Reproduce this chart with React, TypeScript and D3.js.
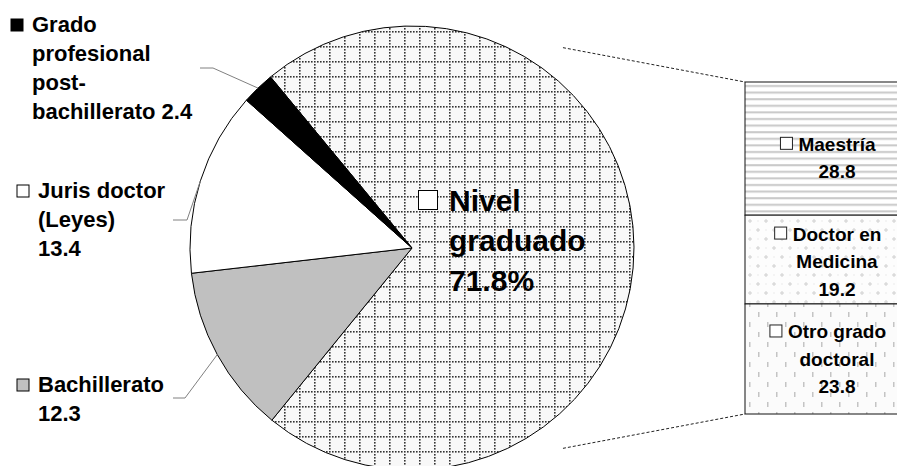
import React from 'react';
import * as d3 from 'd3';

// ---- data ----
const pieCategories = ['Nivel graduado', 'Bachillerato', 'Juris doctor (Leyes)', 'Grado profesional post-bachillerato'];
const pieValues = [71.8, 12.3, 13.4, 2.4];
const pieLabelLines = [
  ['Nivel', 'graduado', '71.8%'],
  ['Bachillerato', '12.3'],
  ['Juris doctor', '(Leyes)', '13.4'],
  ['Grado', 'profesional', 'post-', 'bachillerato 2.4'],
];
const barCategories = ['Maestría', 'Doctor en Medicina', 'Otro grado doctoral'];
const barValues = [28.8, 19.2, 23.8];
const barLabelLines = [
  ['Maestría', '28.8'],
  ['Doctor en', 'Medicina', '19.2'],
  ['Otro grado', 'doctoral', '23.8'],
];

const FONT = "'Liberation Sans', Arial, Helvetica, sans-serif";

let measureCtx: CanvasRenderingContext2D | null = null;
function textWidth(t: string, size: number) {
  if (!measureCtx) measureCtx = document.createElement('canvas').getContext('2d');
  if (!measureCtx) return t.length * size * 0.55;
  measureCtx.font = `bold ${size}px ${FONT}`;
  return measureCtx.measureText(t).width;
}

export default function App() {
  const W = 897, H = 466;
  const cx = 412, cy = 248, R = 222;
  const start = (-39.6 * Math.PI) / 180;

  const pie = d3.pie<number>().sort(null).value((d) => d).startAngle(start).endAngle(start + 2 * Math.PI);
  const arcs = pie(pieValues);
  const arcGen = d3.arc<d3.PieArcDatum<number>>().innerRadius(0).outerRadius(R);
  const pieFills = ['url(#pGrid)', '#c0c0c0', '#ffffff', '#000000'];
  const markerFills = ['#ffffff', '#c0c0c0', '#ffffff', '#000000'];

  const pt = (a: number, r: number): [number, number] => [cx + r * Math.sin(a), cy - r * Math.cos(a)];

  // left label layout (index matches pie data)
  const leftLayout: Record<number, { x: number; y: number; ly: number; x0: number; x1: number }> = {
    1: { x: 38, y: 392, ly: 398, x0: 173, x1: 185 },
    2: { x: 38, y: 198, ly: 220, x0: 173, x1: 187 },
    3: { x: 32, y: 32, ly: 68, x0: 200, x1: 213 },
  };
  const leftSize = 22, leftPitch = 29;

  // secondary bar
  const barX = 745, barW = 168, barTop = 82, barBottom = 414;
  const total = d3.sum(barValues);
  const yScale = d3.scaleLinear().domain([0, total]).range([barTop, barBottom]);
  const cum = barValues.map((_, i) => d3.sum(barValues.slice(0, i)));
  const barFills = ['url(#pStripe)', 'url(#pPlus)', 'url(#pDash)'];
  const barSize = 19, barPitch = 27.5;
  const barLabelCx = 828;
  const barLabelDy = [9, 1.5, 0];

  // connector lines
  const connA = (37 * Math.PI) / 180;
  const topStart = pt(connA, R * 1.13);
  const botStart = pt(Math.PI - connA, R * 1.13);

  const gridDots = d3.range(0, 15, 3);

  return (
    <svg width={W} height={H} style={{ position: 'absolute', left: 0, top: 0, display: 'block' }} fontFamily={FONT}>
      <defs>
        <pattern id="pGrid" patternUnits="userSpaceOnUse" width={15} height={15} x={cx} y={cy}>
          <rect width={15} height={15} fill="#f8f8f8" />
          {gridDots.map((d) => (
            <rect key={'h' + d} x={d} y={0} width={1.6} height={1.6} fill="#333" />
          ))}
          {gridDots.slice(1).map((d) => (
            <rect key={'v' + d} x={0} y={d} width={1.6} height={1.6} fill="#333" />
          ))}
        </pattern>
        <pattern id="pStripe" patternUnits="userSpaceOnUse" width={10} height={6.6} y={barTop}>
          <rect width={10} height={6.6} fill="#ffffff" />
          <rect y={3} width={10} height={2} fill="#c8c8c8" />
        </pattern>
        <pattern id="pPlus" patternUnits="userSpaceOnUse" width={16} height={18} x={barX}>
          <rect width={16} height={18} fill="#fdfdfd" />
          <rect x={3} y={4.5} width={4} height={1} fill="#d0d0d0" />
          <rect x={4.5} y={3} width={1} height={4} fill="#d0d0d0" />
          <rect x={11} y={13.5} width={4} height={1} fill="#d0d0d0" />
          <rect x={12.5} y={12} width={1} height={4} fill="#d0d0d0" />
          <rect x={12.5} y={4.5} width={1} height={1} fill="#dadada" />
          <rect x={4.5} y={13.5} width={1} height={1} fill="#dadada" />
        </pattern>
        <pattern id="pDash" patternUnits="userSpaceOnUse" width={18} height={20} x={barX}>
          <rect width={18} height={20} fill="#fbfbfb" />
          <rect x={4} y={2} width={1.5} height={5} fill="#c4c4c4" />
          <rect x={13} y={12} width={1.5} height={5} fill="#c4c4c4" />
        </pattern>
      </defs>

      <rect width={W} height={H} fill="#ffffff" />

      {/* connector lines */}
      <line x1={topStart[0]} y1={topStart[1]} x2={barX} y2={yScale(0)} stroke="#222" strokeWidth={1} strokeDasharray="3 2" />
      <line x1={botStart[0]} y1={botStart[1]} x2={barX} y2={yScale(total)} stroke="#222" strokeWidth={1} strokeDasharray="3 2" />

      {/* pie */}
      <g transform={`translate(${cx},${cy})`}>
        {arcs.map((a, i) => (
          <path key={pieCategories[i]} d={arcGen(a) || ''} fill={pieFills[i]} stroke="#000" strokeWidth={1} strokeLinejoin="round" />
        ))}
      </g>

      {/* leader lines + left labels */}
      {arcs.map((a, i) => {
        const L = leftLayout[i];
        if (!L) return null;
        const mid = (a.startAngle + a.endAngle) / 2;
        const e = pt(mid, R);
        const lines = pieLabelLines[i];
        return (
          <g key={'lab' + i}>
            <polyline points={`${L.x0},${L.ly} ${L.x1},${L.ly} ${e[0]},${e[1]}`} fill="none" stroke="#808080" strokeWidth={1} />
            <rect x={L.x - 21} y={L.y - 13} width={12} height={12} fill={markerFills[i]} stroke="#000" strokeWidth={1} />
            {lines.map((t, j) => (
              <text key={j} x={L.x} y={L.y + j * leftPitch} fontSize={leftSize} fontWeight="bold" fill="#000">
                {t}
              </text>
            ))}
          </g>
        );
      })}

      {/* big label inside pie */}
      <g>
        <rect x={418.5} y={190.5} width={19} height={19} fill={markerFills[0]} stroke="#000" strokeWidth={1} />
        {pieLabelLines[0].map((t, j) => (
          <text key={j} x={449} y={211 + j * 40} fontSize={30} fontWeight="bold" fill="#000">
            {t}
          </text>
        ))}
      </g>

      {/* secondary bar */}
      {barValues.map((v, i) => (
        <rect
          key={barCategories[i]}
          x={barX}
          y={yScale(cum[i])}
          width={barW}
          height={yScale(cum[i] + v) - yScale(cum[i])}
          fill={barFills[i]}
          stroke="#111"
          strokeWidth={1}
        />
      ))}

      {/* bar labels */}
      {barValues.map((v, i) => {
        const lines = barLabelLines[i];
        const tw = d3.max(lines, (t) => textWidth(t, barSize)) || 0;
        const blockW = 18 + tw;
        const left = barLabelCx - blockW / 2;
        const textCx = left + 18 + tw / 2;
        const midY = (yScale(cum[i]) + yScale(cum[i] + v)) / 2 + barLabelDy[i];
        const n = lines.length;
        return (
          <g key={'bl' + i}>
            <rect x={left} y={midY - ((n - 1) / 2) * barPitch - 6.5} width={12} height={12} fill="#fff" stroke="#222" strokeWidth={1} />
            {lines.map((t, j) => (
              <text
                key={j}
                x={textCx}
                y={midY + (j - (n - 1) / 2) * barPitch + 7}
                fontSize={barSize}
                fontWeight="bold"
                textAnchor="middle"
                fill="#000"
              >
                {t}
              </text>
            ))}
          </g>
        );
      })}
    </svg>
  );
}
